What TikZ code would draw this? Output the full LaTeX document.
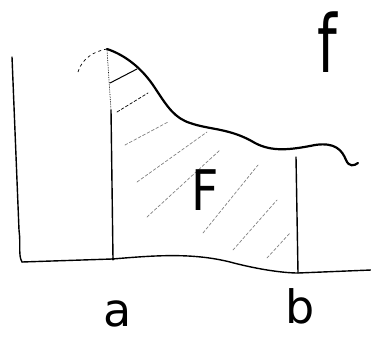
\documentclass[tikz,border=0pt]{standalone}
\usepackage{fontspec}
\setsansfont{DejaVu Sans}
\begin{document}
\begin{tikzpicture}[x=1pt,y=-1pt,
  ink/.style={line width=1.4pt,line cap=round,line join=round},
  thickink/.style={line width=2.2pt,line cap=round,line join=round},
  hatch/.style={line width=0.7pt,gray,densely dashed,line cap=round},
  lbl/.style={inner sep=0pt,font=\sffamily}]
\useasboundingbox (0,0) rectangle (371,340);
% axes
\draw[ink] (12,57) -- (19,230) .. controls (21,245) and (18,255) .. (22,262);
\draw[ink] (22,262) -- (112,259) .. controls (150,256) and (190,252) .. (230,262)
  .. controls (260,270) and (285,273) .. (298,273) -- (371,270);
% verticals
\draw[line width=0.7pt,densely dotted] (107,50) -- (111,110);
\draw[ink] (111,110) -- (113,259);
\fill (113,259) circle (1.6pt);
\draw[ink] (296,157) -- (298,273);
% function curve
\draw[line width=0.7pt,dashed] (78,72) .. controls (82,58) and (95,51) .. (107,49);
\draw[thickink] (107,49) .. controls (125,55) and (142,68) .. (155,88)
  .. controls (168,108) and (175,118) .. (190,123)
  .. controls (210,130) and (230,128) .. (255,143)
  .. controls (272,152) and (290,150) .. (315,145)
  .. controls (335,142) and (342,150) .. (346,160)
  .. controls (349,167) and (354,166) .. (358,163);
% hatching
\draw[hatch,solid,black,line width=1pt] (110,83) -- (137,69);
\draw[hatch,black] (117,112) -- (148,93);
\draw[hatch] (125,145) -- (168,122);
\draw[hatch] (137,182) -- (207,132);
\draw[hatch] (147,217) -- (220,150);
\draw[hatch] (203,233) -- (258,165);
\draw[hatch] (233,250) -- (277,200);
\draw[hatch] (267,258) -- (290,233);
% labels
\node[lbl,font=\sffamily\fontsize{56}{56}\selectfont,xscale=0.85] (F) at (205,190) {F};
\node[lbl,font=\sffamily\fontsize{80}{80}\selectfont,xscale=0.7] (f) at (327,42) {f};
\node[lbl,font=\sffamily\fontsize{46}{46}\selectfont] (a) at (118,314) {a};
\node[lbl,font=\sffamily\fontsize{46}{46}\selectfont] (b) at (300,306) {b};
\end{tikzpicture}
\end{document}
